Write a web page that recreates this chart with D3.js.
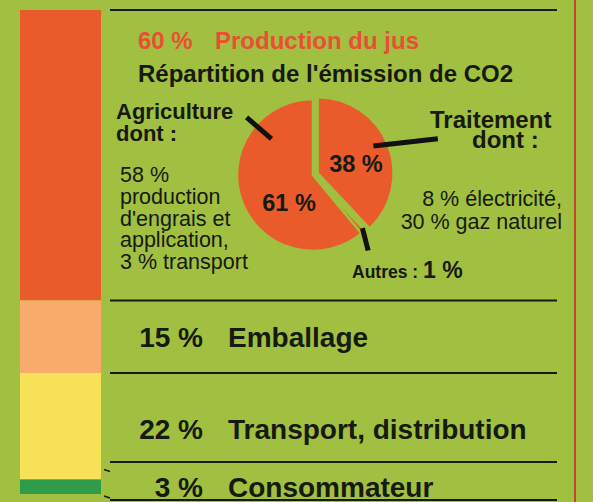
<!DOCTYPE html>
<html>
<head>
<meta charset="utf-8">
<script src="https://cdn.jsdelivr.net/npm/d3@7"></script>
<style>
  html, body { margin: 0; padding: 0; background: #a1bf40; }
  svg { display: block; font-family: "Liberation Sans", Arial, sans-serif; }
</style>
</head>
<body>
<svg id="chart" width="593" height="502"></svg>
<script>
// -----------------------------------------------------------------------------

var stageNames = ['Production du jus', 'Emballage', 'Transport, distribution', 'Consommateur'];
var stageValues = [60, 15, 22, 3];
var stageColors = ['#ea5b2c', '#f8ab6a', '#f7e158', '#2f9b4b'];

var co2Names = ['Traitement', 'Autres', 'Agriculture'];
var co2Values = [38, 1, 61];

var agricultureDetail = ['58 %', 'production', "d'engrais et", 'application,', '3 % transport'];
var traitementDetail = ['8 % électricité,', '30 % gaz naturel'];

// -----------------------------------------------------------------------------

var svg = d3.select('#chart');
var W = 593, H = 502;
var green = '#a1bf40';
var ink = '#161a10';

svg.append('rect').attr('width', W).attr('height', H).attr('fill', green);

// - - - - - - - - - - - - - - - - - - - - - - - - - - - - - - - - - - - - - -
// stacked column

var y = d3.scaleLinear().domain([0, 100]).range([10, 494]);
var stack = [];
var acc = 0;
stageValues.forEach(function (v, i) {
  stack.push({ name: stageNames[i], value: v, y0: acc, y1: acc + v, color: stageColors[i] });
  acc += v;
});

svg.append('g')
  .selectAll('rect')
  .data(stack)
  .join('rect')
  .attr('x', 20)
  .attr('width', 81)
  .attr('y', function (d) { return y(d.y0); })
  .attr('height', function (d) { return y(d.y1) - y(d.y0); })
  .attr('fill', function (d) { return d.color; });

// - - - - - - - - - - - - - - - - - - - - - - - - - - - - - - - - - - - - - -
// rows on the right, the last one widened so its label fits

var minRowHeight = 38;
var rowBottomMax = 500;
var rows = stack.map(function (d) { return { top: y(d.y0), bottom: y(d.y1), d: d }; });
var last = rows[rows.length - 1];
last.bottom = rowBottomMax;
last.top = Math.min(last.top, rowBottomMax - minRowHeight);
rows[rows.length - 2].bottom = last.top;

var lineX0 = 110, lineX1 = 557;
var rowLines = [rows[0].top].concat(rows.map(function (r) { return r.bottom; }));

svg.append('g')
  .selectAll('line')
  .data(rowLines)
  .join('line')
  .attr('x1', lineX0)
  .attr('x2', lineX1)
  .attr('y1', function (d) { return d; })
  .attr('y2', function (d) { return d; })
  .attr('stroke', ink)
  .attr('stroke-width', 2);

// small brackets tying the thin column segment to its wider row
var lastSeg = stack[stack.length - 1];
svg.append('g')
  .selectAll('line')
  .data([[y(lastSeg.y0) - 10, last.top + 10], [y(lastSeg.y1) + 2, last.bottom + 1]])
  .join('line')
  .attr('x1', 104)
  .attr('x2', 110)
  .attr('y1', function (d) { return d[0]; })
  .attr('y2', function (d) { return d[0] + (d[0] < d[1] ? 2 : 5); })
  .attr('stroke', ink)
  .attr('stroke-width', 1.5);

// right border
svg.append('line')
  .attr('x1', 575).attr('x2', 575)
  .attr('y1', 0).attr('y2', H)
  .attr('stroke', '#c2462a')
  .attr('stroke-width', 2);

// row labels (first row heads the pie panel)
var labelBaselines = [49, rows[1].bottom - 26, rows[2].bottom - 23, rows[3].bottom - 3];

var rowLabels = svg.append('g')
  .selectAll('g')
  .data(rows)
  .join('g');

rowLabels.append('text')
  .attr('x', function (d, i) { return i === 0 ? 138 : 203; })
  .attr('y', function (d, i) { return labelBaselines[i]; })
  .attr('text-anchor', function (d, i) { return i === 0 ? 'start' : 'end'; })
  .attr('font-size', function (d, i) { return i === 0 ? 24 : 28; })
  .attr('font-weight', 'bold')
  .attr('fill', function (d, i) { return i === 0 ? '#ea4e34' : ink; })
  .text(function (d) { return d.d.value + ' %'; });

rowLabels.append('text')
  .attr('x', function (d, i) { return i === 0 ? 215 : 228; })
  .attr('y', function (d, i) { return labelBaselines[i]; })
  .attr('font-size', function (d, i) { return i === 0 ? 24 : 28; })
  .attr('font-weight', 'bold')
  .attr('fill', function (d, i) { return i === 0 ? '#ea4e34' : ink; })
  .text(function (d) { return d.d.name; });

// - - - - - - - - - - - - - - - - - - - - - - - - - - - - - - - - - - - - - -
// pie of CO2 emission split

svg.append('text')
  .attr('x', 138).attr('y', 82)
  .attr('font-size', 24)
  .attr('font-weight', 'bold')
  .attr('fill', ink)
  .text("Répartition de l'émission de CO2");

var cx = 313, cy = 175, r = 76;
var explode = [5, 2.5, 0];

var pieData = d3.pie().sort(null).value(function (d) { return d; })(co2Values);
var arc = d3.arc().innerRadius(0).outerRadius(r);

function shift(d, i) {
  var a = (d.startAngle + d.endAngle) / 2;
  return [Math.sin(a) * explode[i], -Math.cos(a) * explode[i]];
}

var gPie = svg.append('g').attr('transform', 'translate(' + cx + ',' + cy + ')');

gPie.selectAll('path')
  .data(pieData)
  .join('path')
  .attr('transform', function (d, i) {
    var s = shift(d, i);
    return 'translate(' + s[0] + ',' + s[1] + ')';
  })
  .attr('d', arc)
  .attr('fill', '#ea5b2c')
  .attr('stroke', green)
  .attr('stroke-width', 2.5)
  .attr('stroke-linejoin', 'miter');

// polar helper, angle in degrees clockwise from 12 o'clock
function polar(deg, rad, s) {
  var a = deg * Math.PI / 180;
  return [s[0] + Math.sin(a) * rad, s[1] - Math.cos(a) * rad];
}

var s0 = shift(pieData[0], 0), s1 = shift(pieData[1], 1), s2 = shift(pieData[2], 2);
var leaders = [
  [polar(64, 62, s0), polar(74, 125, s0)],
  [polar(137, 70, s1), polar(144, 91, s1)],
  [polar(311, 55, s2), polar(311, 88, s2)]
];

gPie.selectAll('line.leader')
  .data(leaders)
  .join('line')
  .attr('class', 'leader')
  .attr('x1', function (d) { return d[0][0]; })
  .attr('y1', function (d) { return d[0][1]; })
  .attr('x2', function (d) { return d[1][0]; })
  .attr('y2', function (d) { return d[1][1]; })
  .attr('stroke', '#111')
  .attr('stroke-width', 5);

var pctLabels = [
  { i: 0, dx: 43, dy: -3 },
  { i: 2, dx: -24, dy: 36 }
];
gPie.selectAll('text.pct')
  .data(pctLabels)
  .join('text')
  .attr('class', 'pct')
  .attr('x', function (d) { return d.dx; })
  .attr('y', function (d) { return d.dy; })
  .attr('text-anchor', 'middle')
  .attr('font-size', 23.5)
  .attr('font-weight', 'bold')
  .attr('fill', ink)
  .text(function (d) { return co2Values[d.i] + ' %'; });

// - - - - - - - - - - - - - - - - - - - - - - - - - - - - - - - - - - - - - -
// annotations

// Agriculture
var agri = svg.append('text')
  .attr('x', 116).attr('y', 119)
  .attr('font-size', 22)
  .attr('font-weight', 'bold')
  .attr('fill', ink);
agri.append('tspan').attr('x', 116).text(co2Names[2]);
agri.append('tspan').attr('x', 116).attr('dy', 22).text('dont :');

svg.append('g')
  .selectAll('text')
  .data(agricultureDetail)
  .join('text')
  .attr('x', 120)
  .attr('y', function (d, i) { return 182 + i * 21.8; })
  .attr('font-size', 21.5)
  .attr('fill', ink)
  .text(function (d) { return d; });

// Traitement
var trait = svg.append('text')
  .attr('font-size', 24)
  .attr('font-weight', 'bold')
  .attr('fill', ink);
trait.append('tspan').attr('x', 430).attr('y', 128).text(co2Names[0]);
trait.append('tspan').attr('x', 472).attr('y', 148).text('dont :');

svg.append('g')
  .selectAll('text')
  .data(traitementDetail)
  .join('text')
  .attr('x', 562)
  .attr('y', function (d, i) { return 206 + i * 23; })
  .attr('text-anchor', 'end')
  .attr('font-size', 21.5)
  .attr('fill', ink)
  .text(function (d) { return d; });

// Autres
var autres = svg.append('text')
  .attr('x', 352).attr('y', 278)
  .attr('fill', ink)
  .attr('font-weight', 'bold');
autres.append('tspan').attr('font-size', 17.5).text(co2Names[1] + ' : ');
autres.append('tspan').attr('font-size', 23).text(co2Values[1] + ' %');

// -----------------------------------------------------------------------------
</script>
</body>
</html>
